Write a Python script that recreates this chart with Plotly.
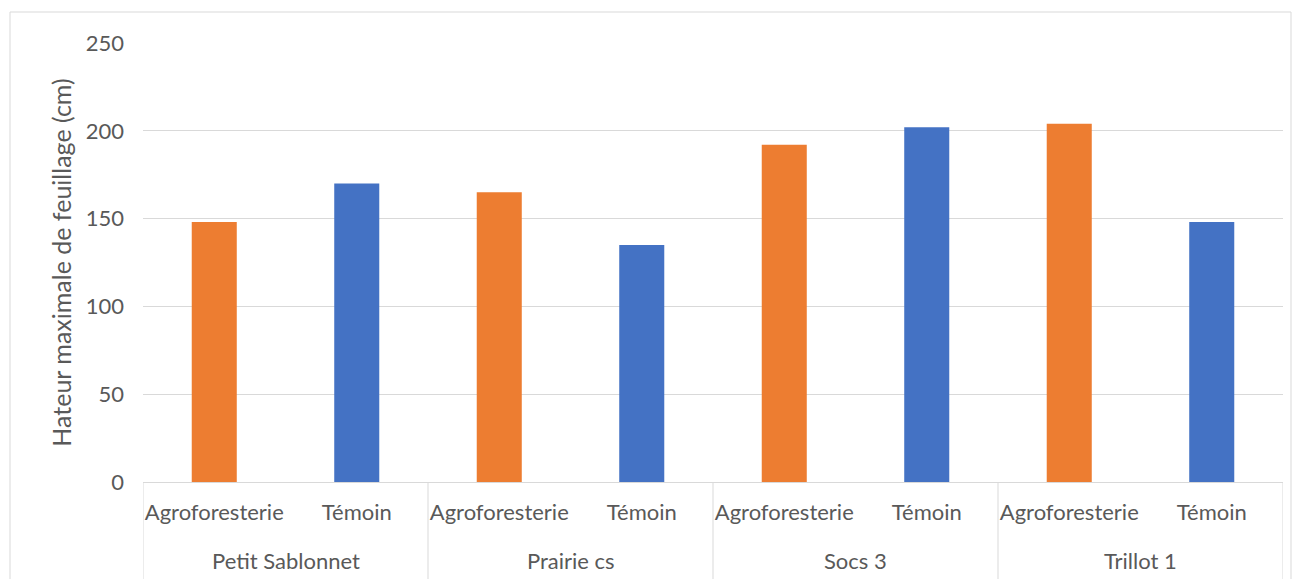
import plotly.graph_objects as go

sites = ["Petit Sablonnet", "Prairie cs", "Socs 3", "Trillot 1"]
treatments = ["Agroforesterie", "Témoin"]
agro_values = [148, 165, 192, 204]
temoin_values = [170, 135, 202, 148]
y_ticks = [0, 50, 100, 150, 200, 250]
colors = {"Agroforesterie": "#ED7D31", "Témoin": "#4472C4"}

FONT = "Lato"
TXT = "#595959"
GRID = "#D9D9D9"
FS = 22

# category positions (numeric axis, one unit per sub-category)
xpos, ylist, cols, ticktext = [], [], [], []
i = 0
for s, a, t in zip(sites, agro_values, temoin_values):
    for tr, v in zip(treatments, [a, t]):
        xpos.append(i)
        ylist.append(v)
        cols.append(colors[tr])
        ticktext.append(tr)
        i += 1

fig = go.Figure()
fig.add_trace(go.Bar(x=xpos, y=ylist, marker=dict(color=cols, line=dict(width=0)),
                     width=0.316, showlegend=False, hoverinfo="x+y"))

n = len(xpos)
fig.update_layout(
    width=1303, height=579,
    margin=dict(l=143, r=20, t=43, b=97),
    paper_bgcolor="white", plot_bgcolor="white",
    font=dict(family=FONT, color=TXT, size=FS),
    showlegend=False,
    yaxis=dict(range=[0, 250], tickvals=y_ticks, showgrid=True, gridcolor=GRID,
               gridwidth=1, zeroline=False, showline=False, ticks="",
               tickfont=dict(size=FS, color=TXT), ticklabelstandoff=18,
               title=dict(text="Hateur maximale de feuillage (cm)", font=dict(size=25, color=TXT),
                          standoff=6)),
    xaxis=dict(range=[-0.5, n - 0.5], tickvals=xpos, ticktext=ticktext,
               showline=True, linecolor=GRID, linewidth=1, showgrid=False, zeroline=False,
               ticks="", tickfont=dict(size=FS, color=TXT), ticklabelstandoff=11),
)

# group labels and dividers
for k, s in enumerate(sites):
    fig.add_annotation(x=2 * k + 0.5, xref="x", y=-(560 - 482) / 439, yref="paper",
                       text=s, showarrow=False, font=dict(size=FS, color=TXT),
                       xanchor="center", yanchor="middle")
for k in range(len(sites) + 1):
    fig.add_shape(type="line", xref="x", yref="paper", x0=2 * k - 0.5, x1=2 * k - 0.5,
                  y0=0, y1=-0.4, line=dict(color=GRID, width=1))

fig.add_shape(type="rect", xref="paper", yref="paper",
              x0=(10 - 143) / 1140, x1=(1291 - 143) / 1140,
              y0=-0.4, y1=(482 - 12) / 439,
              line=dict(color=GRID, width=1), fillcolor="rgba(0,0,0,0)", layer="below")

fig.write_html("out.html", config={"displayModeBar": False},
               post_script="document.body.style.margin='0';")
